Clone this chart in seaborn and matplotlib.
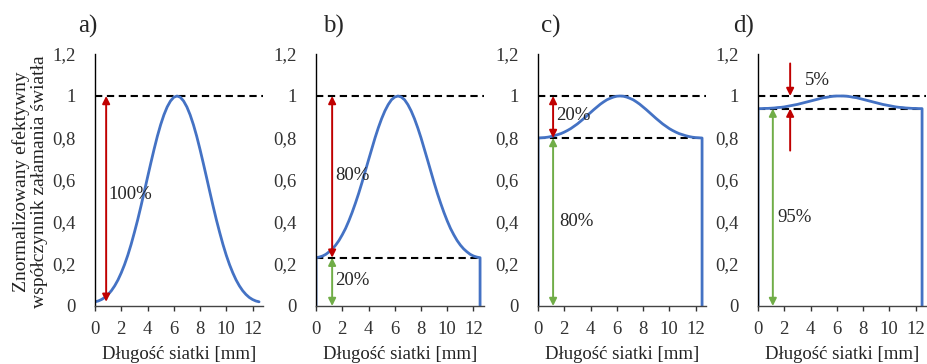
import matplotlib
matplotlib.use("Agg")
import matplotlib.pyplot as plt
import pandas as pd
import seaborn as sns

# grid length [mm] and normalized effective refractive index
x_mm = [0, 0.25, 0.5, 0.75, 1, 1.25, 1.5, 1.75, 2, 2.25, 2.5, 2.75, 3, 3.25, 3.5, 3.75,
        4, 4.25, 4.5, 4.75, 5, 5.25, 5.5, 5.75, 6, 6.25, 6.5, 6.75, 7, 7.25, 7.5, 7.75,
        8, 8.25, 8.5, 8.75, 9, 9.25, 9.5, 9.75, 10, 10.25, 10.5, 10.75, 11, 11.25, 11.5,
        11.75, 12, 12.25, 12.5]
y_a = [0.02, 0.024, 0.031, 0.041, 0.055, 0.073, 0.096, 0.124, 0.158, 0.197, 0.242, 0.293,
       0.35, 0.41, 0.475, 0.543, 0.612, 0.68, 0.746, 0.808, 0.863, 0.91, 0.948, 0.976, 0.994,
       1.0,
       0.994, 0.976, 0.948, 0.91, 0.863, 0.808, 0.746, 0.68, 0.612, 0.543, 0.475, 0.41, 0.35,
       0.293, 0.242, 0.197, 0.158, 0.124, 0.096, 0.073, 0.055, 0.041, 0.031, 0.024, 0.02]
y_b = [0.23, 0.233, 0.238, 0.246, 0.258, 0.272, 0.29, 0.312, 0.339, 0.369, 0.405, 0.445,
       0.489, 0.536, 0.587, 0.641, 0.695, 0.748, 0.801, 0.849, 0.892, 0.929, 0.959, 0.982, 0.995,
       1.0,
       0.995, 0.982, 0.959, 0.929, 0.892, 0.849, 0.801, 0.748, 0.695, 0.641, 0.587, 0.536, 0.489,
       0.445, 0.405, 0.369, 0.339, 0.312, 0.29, 0.272, 0.258, 0.246, 0.238, 0.233, 0.23]
y_c = [0.8, 0.801, 0.802, 0.804, 0.807, 0.811, 0.816, 0.821, 0.828, 0.836, 0.845, 0.856,
       0.867, 0.88, 0.893, 0.907, 0.921, 0.935, 0.948, 0.961, 0.972, 0.982, 0.989, 0.995, 0.999,
       1.0,
       0.999, 0.995, 0.989, 0.982, 0.972, 0.961, 0.948, 0.935, 0.921, 0.907, 0.893, 0.88, 0.867,
       0.856, 0.845, 0.836, 0.828, 0.821, 0.816, 0.811, 0.807, 0.804, 0.802, 0.801, 0.8]
y_d = [0.94, 0.94, 0.941, 0.941, 0.942, 0.943, 0.945, 0.946, 0.948, 0.951, 0.954, 0.957,
       0.96, 0.964, 0.968, 0.972, 0.976, 0.98, 0.984, 0.988, 0.992, 0.994, 0.997, 0.999, 1.0,
       1.0,
       1.0, 0.999, 0.997, 0.994, 0.992, 0.988, 0.984, 0.98, 0.976, 0.972, 0.968, 0.964, 0.96,
       0.957, 0.954, 0.951, 0.948, 0.946, 0.945, 0.943, 0.942, 0.941, 0.941, 0.94, 0.94]

panel_names = ["a)", "b)", "c)", "d)"]
base_levels = [None, 0.23, 0.80, 0.94]
y_ticks = [0, 0.2, 0.4, 0.6, 0.8, 1.0, 1.2]
x_ticks = [0, 2, 4, 6, 8, 10, 12]
x_label = "Długość siatki [mm]"
y_label = "Znormalizowany efektywny\nwspółczynnik załamania światła"

BLUE = "#4472C4"
RED = "#C00000"
GREEN = "#70AD47"

sns.set_style("white")
plt.rcParams["font.family"] = ["Liberation Serif", "DejaVu Serif"]

W, H = 927, 364
fig = plt.figure(figsize=(W / 100, H / 100), dpi=100)

lefts_px = [95, 316, 538, 758]
label_x_px = [88, 333, 551, 744]
series = [y_a, y_b, y_c, y_d]


def arrow(ax, x, y0, y1, color, style="<|-|>"):
    ax.annotate("", xy=(x, y1), xytext=(x, y0),
                arrowprops=dict(arrowstyle=style, color=color, lw=1.4,
                                mutation_scale=11, shrinkA=0, shrinkB=0))


for i, (ys, base) in enumerate(zip(series, base_levels)):
    ax = fig.add_axes([lefts_px[i] / W, 58 / H, 168 / W, 252 / H])

    if base is None:
        df = pd.DataFrame({"x": x_mm, "y": ys})
    else:
        # side walls of the grid down to zero
        df = pd.DataFrame({"x": [0] + x_mm + [12.5], "y": [0] + ys + [0]})
    sns.lineplot(data=df, x="x", y="y", sort=False, estimator=None,
                 color=BLUE, lw=2.0, ax=ax)

    ax.axhline(1.0, color="black", lw=1.5, dashes=(3.5, 2.2), zorder=1)
    if base is not None:
        ax.hlines(base, 0, 12.5, color="black", lw=1.5, linestyles=(0, (3.5, 2.2)), zorder=1)

    ax.set_xlim(0, 12.8)
    ax.set_ylim(0, 1.2)
    ax.set_xticks(x_ticks)
    ax.set_yticks(y_ticks)
    ax.set_yticklabels([f"{v:g}".replace(".", ",") for v in y_ticks])
    ax.tick_params(axis="y", length=0, pad=14, labelsize=13.5, colors="#333333")
    ax.tick_params(axis="x", length=3.5, width=1, direction="out", pad=7,
                   labelsize=13.5, colors="#333333", bottom=True)
    for side in ["top", "right"]:
        ax.spines[side].set_visible(False)
    ax.spines["left"].set_color("black")
    ax.spines["bottom"].set_color("#444444")
    ax.spines["left"].set_linewidth(1.0)
    ax.spines["bottom"].set_linewidth(1.0)
    ax.set_xlabel(x_label, fontsize=13.5, color="#222222", labelpad=6)
    ax.set_ylabel("")
    ax.set_facecolor("white")

    fig.text(label_x_px[i] / W, 1 - 26 / H, panel_names[i], fontsize=18,
             ha="center", va="center")

    if i == 0:
        arrow(ax, 0.85, 0.02, 1.0, RED)
        ax.text(1.0, 0.53, "100%", fontsize=13.5, va="center")
    elif i == 1:
        arrow(ax, 1.23, 0.23, 1.0, RED)
        arrow(ax, 1.23, 0.0, 0.23, GREEN)
        ax.text(1.45, 0.62, "80%", fontsize=13.5, va="center")
        ax.text(1.45, 0.12, "20%", fontsize=13.5, va="center")
    elif i == 2:
        arrow(ax, 1.15, 0.80, 1.0, RED)
        arrow(ax, 1.15, 0.0, 0.80, GREEN)
        ax.text(1.35, 0.905, "20%", fontsize=13.5, va="center")
        ax.text(1.65, 0.40, "80%", fontsize=13.5, va="center")
    else:
        arrow(ax, 1.13, 0.0, 0.94, GREEN)
        arrow(ax, 2.45, 1.155, 1.0, RED, "-|>")
        arrow(ax, 2.45, 0.74, 0.94, RED, "-|>")
        ax.text(1.5, 0.42, "95%", fontsize=13.5, va="center")
        ax.text(3.55, 1.075, "5%", fontsize=13.5, va="center")

fig.text(30 / W, 0.5, y_label, rotation=90, ha="center", va="center",
         fontsize=14, linespacing=1.05, color="#222222")

fig.savefig("out.png", dpi=100)
